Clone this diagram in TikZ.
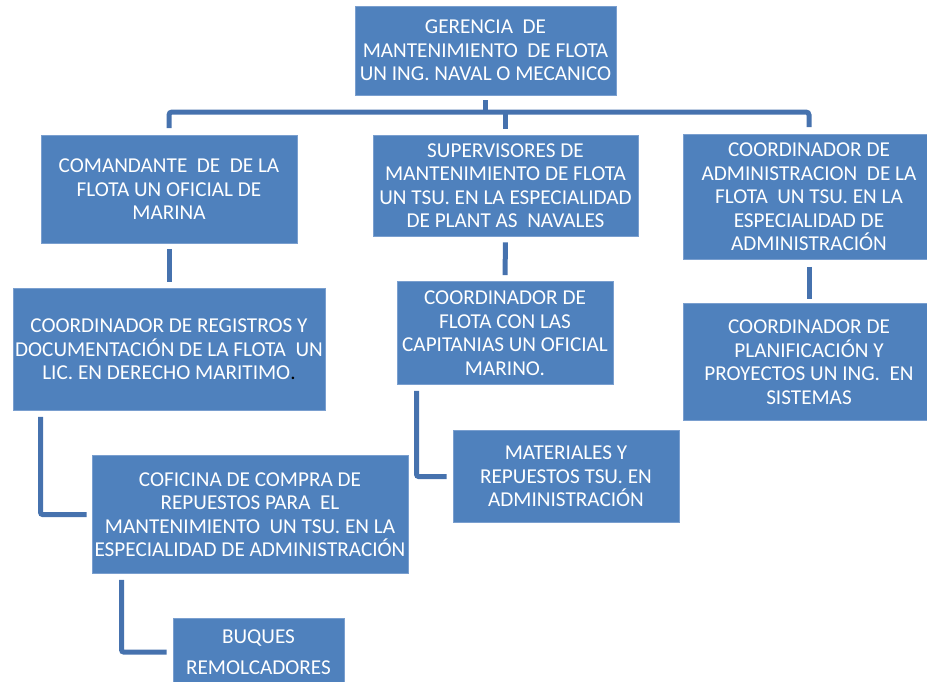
\documentclass[tikz,border=0pt]{standalone}
\usepackage{fontspec}
\setmainfont{Carlito}
\definecolor{boxblue}{HTML}{4F81BD}
\definecolor{boxedge}{HTML}{7A9FCF}
\definecolor{connblue}{HTML}{4672AE}
\begin{document}
\begin{tikzpicture}[x=1pt,y=-1pt,
  box/.style={fill=boxblue, draw=boxedge, line width=0.8pt, text=white, align=center,
    inner sep=0pt, font=\fontsize{21.2}{23.5}\selectfont},
  conn/.style={draw=connblue, line width=5pt}]
\useasboundingbox (0,0) rectangle (927,681);
% boxes
\node[box, minimum width=261pt, minimum height=89pt] (g) at (485.5,50.5)
  {GERENCIA~ DE\\MANTENIMIENTO~ DE FLOTA\\UN ING. NAVAL O MECANICO};
\node[box, minimum width=256pt, minimum height=108pt] (a) at (169,189.5)
  {COMANDANTE~ DE~ DE LA\\FLOTA UN OFICIAL DE\\MARINA};
\node[box, minimum width=265pt, minimum height=101pt] (s) at (505.5,185.5)
  {SUPERVISORES DE\\MANTENIMIENTO DE FLOTA\\UN TSU. EN LA ESPECIALIDAD\\DE PLANT AS~ NAVALES};
\node[box, minimum width=252pt, minimum height=125pt] (c) at (809,197)
  {COORDINADOR DE\\ADMINISTRACION~ DE LA\\FLOTA~ UN TSU. EN LA\\ESPECIALIDAD DE\\ADMINISTRACIÓN};
\node[box, minimum width=312pt, minimum height=122pt] (r) at (169,349.5)
  {COORDINADOR DE REGISTROS Y\\DOCUMENTACIÓN DE LA FLOTA~ UN\\LIC. EN DERECHO MARITIMO{\color{black}.}};
\node[box, minimum width=216pt, minimum height=103pt] (f) at (505,333)
  {COORDINADOR DE\\FLOTA CON LAS\\CAPITANIAS UN OFICIAL\\MARINO.};
\node[box, minimum width=252pt, minimum height=117pt] (p) at (809,362)
  {COORDINADOR DE\\PLANIFICACIÓN Y\\PROYECTOS UN ING.~ EN\\SISTEMAS};
\node[box, minimum width=316pt, minimum height=118pt] (o) at (250,514.5)
  {COFICINA DE COMPRA DE\\REPUESTOS PARA~ EL\\MANTENIMIENTO~ UN TSU. EN LA\\ESPECIALIDAD DE ADMINISTRACIÓN};
\node[box, minimum width=226pt, minimum height=92pt] (m) at (566,476.5)
  {MATERIALES Y\\REPUESTOS TSU. EN\\ADMINISTRACIÓN};
\node[box, minimum width=171pt, minimum height=67pt, font=\fontsize{21.2}{31}\selectfont] (b) at (258.5,652)
  {BUQUES\\REMOLCADORES};
% connectors
\coordinate (bar) at (486,112);
\draw[conn] ([yshift=-5pt]g.south) -- (g.south |- bar);
\draw[conn, rounded corners=3pt] ([yshift=7pt]a.north) -- (a.north |- bar)
  -- (c.north |- bar) -- ([yshift=7pt]c.north);
\draw[conn] ([yshift=2pt]s.north |- bar) -- ([yshift=6pt]s.north);
\draw[conn, shorten <=5pt, shorten >=6pt] (a.south) -- (r.north);
\draw[conn, shorten <=6pt, shorten >=6pt] (s.south) -- (f.north);
\draw[conn, shorten <=7pt, shorten >=4pt] (c.south) -- (p.north);
\draw[conn, rounded corners=2pt] ([xshift=28pt,yshift=-6pt]r.south west) |- ([xshift=-5pt]o.west);
\draw[conn, rounded corners=2pt] ([xshift=20pt,yshift=-6pt]f.south west) |- ([xshift=-6pt]m.west);
\draw[conn, rounded corners=2pt] ([xshift=30pt,yshift=-6pt]o.south west) |- ([xshift=-6pt]b.west);
\end{tikzpicture}
\end{document}
